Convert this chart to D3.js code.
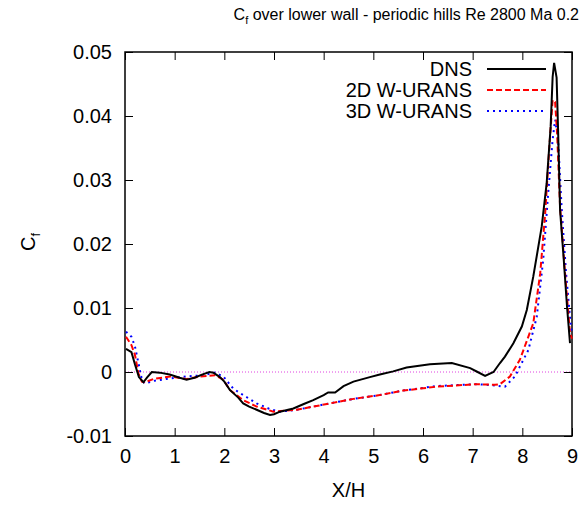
<!DOCTYPE html>
<html lang="en">

<head>
    <meta charset="utf-8">
    <title>Cf periodic hills</title>
    <script type="text/javascript" src="https://cdn.jsdelivr.net/npm/d3@7"></script>

    <style type="text/css">
        body {
            margin: 0;
            background: white;
        }
        text {
            font-family: "Liberation Sans", Arial, sans-serif;
        }
    </style>
</head>

<body>
    <script type="text/javascript">

    var w = 585
    var h = 506
    var margin = {left: 125, right: 13, top: 52, bottom: 70}

    // DNS
    var dnsX = [0.02, 0.13, 0.2, 0.28, 0.37, 0.45, 0.54, 0.7, 0.9, 1.1, 1.24, 1.4, 1.55, 1.7, 1.78, 1.91,
        2.0, 2.11, 2.28, 2.38, 2.5, 2.65, 2.8, 2.92, 3.0, 3.12, 3.39, 3.6, 3.79, 4.0, 4.09, 4.23, 4.4,
        4.6, 4.93, 5.13, 5.4, 5.67, 6.14, 6.58, 6.95, 7.1, 7.25, 7.42, 7.55, 7.65, 7.82, 7.99, 8.09,
        8.22, 8.39, 8.49, 8.57, 8.61, 8.64, 8.69, 8.72, 8.76, 8.83, 8.9, 8.96]
    var dnsCf = [0.0036, 0.0031, 0.0012, -0.0008, -0.0016, -0.0008, 0.0, -0.0001, -0.0004, -0.0009, -0.0012,
        -0.0009, -0.0004, 0.0, -0.0001, -0.0008, -0.0015, -0.0028, -0.004, -0.0049, -0.0054, -0.0059,
        -0.0064, -0.0067, -0.0066, -0.0062, -0.0057, -0.005, -0.0044, -0.0036, -0.0032, -0.0032, -0.0022,
        -0.0015, -0.0008, -0.0004, 0.0001, 0.0007, 0.0012, 0.0014, 0.0006, 0.0, -0.0006, 0.0, 0.0014,
        0.0024, 0.0045, 0.0071, 0.0097, 0.0149, 0.0227, 0.0295, 0.0383, 0.0461, 0.0483, 0.046, 0.0378,
        0.0253, 0.018, 0.0102, 0.0045]

    // 2D W-URANS
    var urans2dX = [0.02, 0.13, 0.2, 0.27, 0.34, 0.4, 0.57, 0.91, 1.24, 1.51, 1.81, 1.98, 2.11, 2.38, 2.65,
        2.99, 3.46, 4.13, 4.6, 5.13, 5.6, 6.27, 7.08, 7.45, 7.55, 7.75, 7.95, 8.12, 8.22, 8.36, 8.46,
        8.54, 8.61, 8.66, 8.7, 8.76, 8.86, 8.96, 9.0]
    var urans2dCf = [0.0055, 0.0042, 0.0027, -0.0002, -0.0015, -0.0016, -0.0011, -0.0007, -0.0011, -0.0007,
        -0.0005, -0.0012, -0.0028, -0.0044, -0.0054, -0.0062, -0.0059, -0.0049, -0.0042, -0.0036, -0.0029,
        -0.0023, -0.0019, -0.002, -0.0019, -0.0007, 0.0019, 0.0055, 0.0076, 0.0154, 0.0248, 0.0347,
        0.0425, 0.0422, 0.0373, 0.0258, 0.0154, 0.006, 0.0052]

    // 3D W-URANS
    var urans3dX = [0.02, 0.13, 0.2, 0.27, 0.34, 0.4, 0.57, 0.91, 1.24, 1.58, 1.81, 1.98, 2.18, 2.38, 2.65,
        2.92, 3.12, 3.46, 4.13, 4.6, 5.13, 5.6, 6.27, 7.08, 7.45, 7.65, 7.85, 8.02, 8.12, 8.29, 8.42,
        8.52, 8.61, 8.66, 8.72, 8.79, 8.88, 8.97, 9.0]
    var urans3dCf = [0.0063, 0.0055, 0.004, 0.0014, -0.0012, -0.0018, -0.0014, -0.001, -0.0007, -0.0005,
        -0.0001, -0.0007, -0.0026, -0.0036, -0.0049, -0.0058, -0.0062, -0.0059, -0.0049, -0.0042, -0.0036,
        -0.0029, -0.0022, -0.0019, -0.0021, -0.0023, -0.0007, 0.0019, 0.0034, 0.0086, 0.0175, 0.0279,
        0.0363, 0.0394, 0.0363, 0.0258, 0.0155, 0.0077, 0.006]

    var xTicks = [0, 1, 2, 3, 4, 5, 6, 7, 8, 9]
    var yTicks = [-0.01, 0, 0.01, 0.02, 0.03, 0.04, 0.05]
    var seriesNames = ["DNS", "2D W-URANS", "3D W-URANS"]

    var zip = function(xs, ys){
        return xs.map(function(x, i){ return {x: x, y: ys[i]}; });
    }

    var series = [
        {name: seriesNames[0], data: zip(dnsX, dnsCf), color: "black", dash: null},
        {name: seriesNames[1], data: zip(urans2dX, urans2dCf), color: "#ff0000", dash: "6,3"},
        {name: seriesNames[2], data: zip(urans3dX, urans3dCf), color: "#0000ff", dash: "2,4"}
    ]

    var svg = d3.select("body")
        .append("svg")
        .attr("width", w)
        .attr("height", h);

    var x = d3.scaleLinear()
        .domain([0, 9])
        .range([margin.left, w - margin.right]);

    var y = d3.scaleLinear()
        .domain([-0.01, 0.05])
        .range([h - margin.bottom, margin.top]);

    //zero line
    svg.append("line")
        .attr("x1", x(0))
        .attr("x2", x(9))
        .attr("y1", y(0))
        .attr("y2", y(0))
        .attr("stroke", "#e040e0")
        .attr("stroke-width", 1)
        .attr("stroke-dasharray", "1,2");

    //axes, ticks pointing inward; plain hyphen for negatives like gnuplot
    var fmt = function(d){ return String(+d.toFixed(2)); }

    var xAxis = svg.append("g")
        .attr("transform", "translate(0," + y(-0.01) + ")")
        .call(d3.axisBottom(x).tickValues(xTicks).tickSizeInner(-8).tickSizeOuter(0).tickPadding(13));

    var xTop = svg.append("g")
        .attr("transform", "translate(0," + y(0.05) + ")")
        .call(d3.axisTop(x).tickValues(xTicks).tickSizeInner(-8).tickSizeOuter(0).tickFormat(""));

    var yAxis = svg.append("g")
        .attr("transform", "translate(" + x(0) + ",0)")
        .call(d3.axisLeft(y).tickValues(yTicks).tickSizeInner(-8).tickSizeOuter(0).tickPadding(13).tickFormat(fmt));

    var yRight = svg.append("g")
        .attr("transform", "translate(" + x(9) + ",0)")
        .call(d3.axisRight(y).tickValues(yTicks).tickSizeInner(-8).tickSizeOuter(0).tickFormat(""));

    svg.selectAll(".tick line").attr("stroke", "black").attr("stroke-width", 1);
    svg.selectAll(".domain").remove();
    svg.selectAll(".tick text")
        .attr("fill", "black")
        .style("font-size", "20px")
        .style("font-family", "Liberation Sans, Arial, sans-serif");

    //frame
    svg.append("rect")
        .attr("x", x(0))
        .attr("y", y(0.05))
        .attr("width", x(9) - x(0))
        .attr("height", y(-0.01) - y(0.05))
        .attr("fill", "none")
        .attr("stroke", "black")
        .attr("stroke-width", 1.5);

    //curves
    var line = d3.line()
        .x(function(d){ return x(d.x); })
        .y(function(d){ return y(d.y); });

    svg.selectAll("path.curve")
        .data(series.slice().reverse())
        .enter()
        .append("path")
        .attr("class", "curve")
        .attr("d", function(d){ return line(d.data); })
        .attr("fill", "none")
        .attr("stroke", function(d){ return d.color; })
        .attr("stroke-width", 2)
        .attr("stroke-dasharray", function(d){ return d.dash; });

    //legend
    var legend = svg.selectAll("g.legend")
        .data(series)
        .enter()
        .append("g")
        .attr("class", "legend")
        .attr("transform", function(d, i){ return "translate(0," + (69 + i * 21) + ")"; });

    legend.append("text")
        .attr("x", 472)
        .attr("y", 7)
        .attr("text-anchor", "end")
        .style("font-size", "20px")
        .text(function(d){ return d.name; });

    legend.append("line")
        .attr("x1", 487)
        .attr("x2", 546)
        .attr("stroke", function(d){ return d.color; })
        .attr("stroke-width", 2)
        .attr("stroke-dasharray", function(d){ return d.dash; });

    //title
    var title = svg.append("text")
        .attr("x", 579)
        .attr("y", 20)
        .attr("text-anchor", "end")
        .style("font-size", "16px");
    title.append("tspan").text("C");
    title.append("tspan").attr("dy", 4).style("font-size", "11px").text("f");
    title.append("tspan").attr("dy", -4).text(" over lower wall - periodic hills Re 2800 Ma 0.2");

    //axis labels
    svg.append("text")
        .attr("x", (x(0) + x(9)) / 2)
        .attr("y", 497)
        .attr("text-anchor", "middle")
        .style("font-size", "20px")
        .text("X/H");

    var ylab = svg.append("text")
        .attr("transform", "translate(35,242) rotate(-90)")
        .attr("text-anchor", "middle")
        .style("font-size", "20px");
    ylab.append("tspan").text("C");
    ylab.append("tspan").attr("dy", 5).style("font-size", "13px").text("f");

    </script>
</body>

</html>
